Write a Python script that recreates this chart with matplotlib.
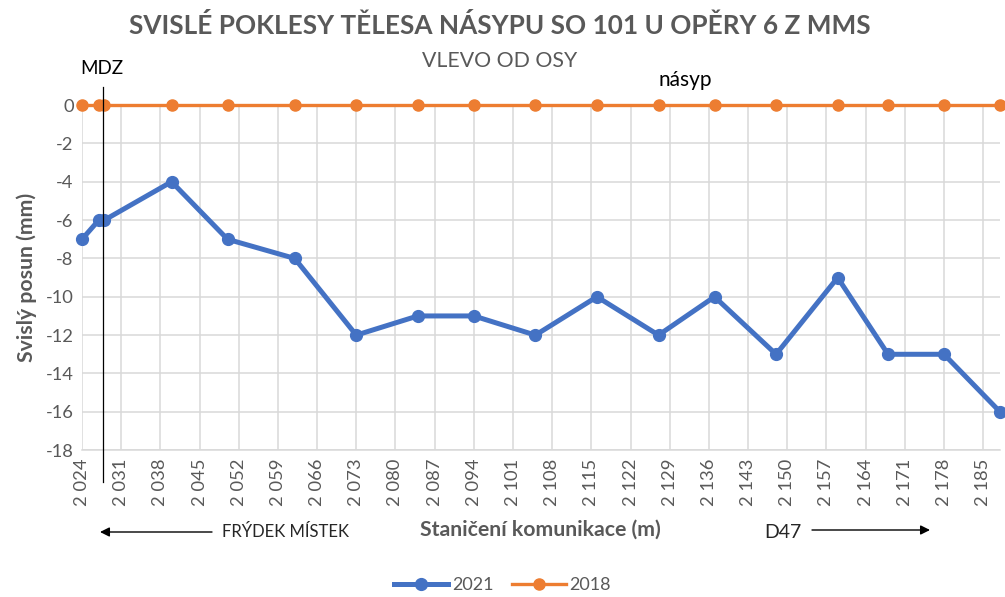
import matplotlib
matplotlib.use("Agg")
import matplotlib.pyplot as plt
from matplotlib.ticker import FixedLocator

plt.rcParams["font.family"] = ["Lato", "DejaVu Sans"]

# data
stations = [2024, 2027, 2028, 2040, 2050, 2062, 2073, 2084, 2094, 2105,
            2116, 2127, 2137, 2148, 2159, 2168, 2178, 2188]
posun_2021 = [-7, -6, -6, -4, -7, -8, -12, -11, -11, -12,
              -10, -12, -10, -13, -9, -13, -13, -16]
posun_2018 = [0, 0, 0, 0, 0, 0, 0, 0, 0, 0,
              0, 0, 0, 0, 0, 0, 0, 0]
xtick_vals = list(range(2024, 2186, 7))
xtick_labels = [f"{v:,}".replace(",", " ") for v in xtick_vals]
ytick_vals = [0, -2, -4, -6, -8, -10, -12, -14, -16, -18]
mdz_station = 2027.7

BLUE = "#4472C4"
ORANGE = "#ED7D31"
GRAY = "#595959"
GRID = "#D9D9D9"

fig = plt.figure(figsize=(10.05, 5.97), dpi=100)
ax = fig.add_axes([0.0816, 0.246, 0.9134, 0.578])

ax.plot(stations, posun_2021, color=BLUE, lw=3.6, marker="o", ms=8.5,
        label="2021", clip_on=False, zorder=3)
ax.plot(stations, posun_2018, color=ORANGE, lw=2.4, marker="o", ms=8,
        label="2018", clip_on=False, zorder=4)

ax.set_xlim(2024, 2188)
ax.set_ylim(-18, 0)
ax.xaxis.set_major_locator(FixedLocator(xtick_vals))
ax.set_xticklabels(xtick_labels, rotation=90, fontsize=13.2, color=GRAY)
ax.set_yticks(ytick_vals)
ax.set_yticklabels([str(v) for v in ytick_vals], fontsize=13.2, color=GRAY)
ax.tick_params(length=0, pad=6)
ax.grid(True, color=GRID, lw=1.1)
ax.set_axisbelow(True)
for s in ["top", "right", "left"]:
    ax.spines[s].set_visible(False)
ax.spines["bottom"].set_color(GRID)
ax.spines["bottom"].set_linewidth(1.1)

# MDZ marker line
ax.axvline(mdz_station, ymin=-0.093, ymax=1.052, color="black", lw=0.9,
           clip_on=False, zorder=5)
fig.text(80 / 1005, 1 - 68 / 597, "MDZ", fontsize=13.5, color="black",
         va="center", ha="left")
fig.text(685 / 1005, 1 - 80 / 597, "násyp", fontsize=15, color="black",
         va="center", ha="center")

fig.text(0.497, 1 - 26 / 597, "SVISLÉ POKLESY TĚLESA NÁSYPU SO 101 U OPĚRY 6 Z MMS",
         fontsize=18.8, fontweight="bold", color=GRAY, ha="center", va="center")
fig.text(0.497, 1 - 61 / 597, "VLEVO OD OSY", fontsize=15.3, color=GRAY,
         ha="center", va="center")

ax.set_ylabel("Svislý posun (mm)", fontsize=15.3, fontweight="bold", color=GRAY,
              labelpad=6)
fig.text(540 / 1005, 1 - 530 / 597, "Staničení komunikace (m)", fontsize=15.3,
         fontweight="bold", color=GRAY, ha="center", va="center")

# direction arrows
fig.text(285 / 1005, 1 - 532 / 597, "FRÝDEK MÍSTEK", fontsize=12,
         color="#262626", ha="center", va="center")
fig.text(783 / 1005, 1 - 532 / 597, "D47", fontsize=14,
         color="#262626", ha="center", va="center")
fig.add_artist(matplotlib.patches.FancyArrowPatch(
    (212 / 1005, 1 - 532 / 597), (100 / 1005, 1 - 532 / 597),
    transform=fig.transFigure, arrowstyle="-|>", mutation_scale=14,
    color="black", lw=1.0, shrinkA=0, shrinkB=0))
fig.add_artist(matplotlib.patches.FancyArrowPatch(
    (812 / 1005, 1 - 530 / 597), (930 / 1005, 1 - 530 / 597),
    transform=fig.transFigure, arrowstyle="-|>", mutation_scale=14,
    color="black", lw=1.0, shrinkA=0, shrinkB=0))

fig.legend(loc="center", bbox_to_anchor=(0.5, 1 - 585 / 597), ncol=2,
           frameon=False, fontsize=13, handlelength=3, columnspacing=1.0,
           handletextpad=0.2, labelcolor=GRAY)

fig.savefig("out.png", dpi=100)
